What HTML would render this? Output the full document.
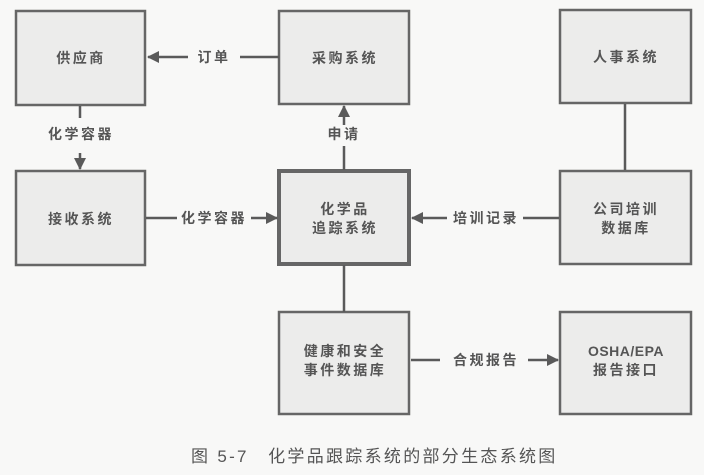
<!DOCTYPE html>
<html><head><meta charset="utf-8"><style>
html,body{margin:0;padding:0;background:#f8f8f7;}
svg{display:block}
text{font-family:"Liberation Sans","Noto Sans CJK SC",sans-serif;fill:#555;font-weight:bold;}
.b{font-size:14px;letter-spacing:2.5px;}
.l{font-size:14px;letter-spacing:2.5px;}
</style></head><body>
<svg width="704" height="475" viewBox="0 0 704 475" xmlns="http://www.w3.org/2000/svg">
<defs>
<marker id="a" markerWidth="12" markerHeight="12" refX="11" refY="6" orient="auto" markerUnits="userSpaceOnUse">
<path d="M0,0 L12,6 L0,12 Z" fill="#5a5a5a"/>
</marker>
</defs>
<g fill="#ececeb" stroke="#666" stroke-width="2.5">
<rect x="16" y="11" width="129" height="94"/>
<rect x="279" y="11" width="130" height="93"/>
<rect x="560" y="10" width="131" height="93"/>
<rect x="16" y="171" width="129" height="94"/>
<rect x="279" y="171" width="130" height="93" stroke-width="4"/>
<rect x="560" y="171" width="131" height="93"/>
<rect x="279" y="312" width="130" height="102"/>
<rect x="560" y="312" width="131" height="102"/>
</g>
<g stroke="#5a5a5a" stroke-width="2.5" fill="none">
<line x1="188" y1="57" x2="148" y2="57" marker-end="url(#a)"/>
<line x1="240" y1="57" x2="279" y2="57"/>
<line x1="80" y1="106" x2="80" y2="118"/>
<line x1="80" y1="153" x2="80" y2="169" marker-end="url(#a)"/>
<line x1="344" y1="125" x2="344" y2="106" marker-end="url(#a)"/>
<line x1="344" y1="146" x2="344" y2="170"/>
<line x1="146" y1="218" x2="177" y2="218"/>
<line x1="251" y1="218" x2="277" y2="218" marker-end="url(#a)"/>
<line x1="447" y1="218" x2="412" y2="218" marker-end="url(#a)"/>
<line x1="523" y1="218" x2="559" y2="218"/>
<line x1="625" y1="104" x2="625" y2="170"/>
<line x1="344" y1="265" x2="344" y2="312"/>
<line x1="411" y1="360" x2="440" y2="360"/>
<line x1="528" y1="360" x2="558" y2="360" marker-end="url(#a)"/>
</g>
<g class="b" text-anchor="middle">
<text x="81" y="63">供应商</text>
<text x="345" y="63">采购系统</text>
<text x="626" y="62">人事系统</text>
<text x="81" y="224">接收系统</text>
<text x="345" y="214">化学品</text>
<text x="345" y="233">追踪系统</text>
<text x="626" y="214">公司培训</text>
<text x="626" y="233">数据库</text>
<text x="345" y="356">健康和安全</text>
<text x="345" y="375">事件数据库</text>
<text x="626" y="356" letter-spacing="0.5">OSHA/EPA</text>
<text x="626" y="375">报告接口</text>
</g>
<g class="l" text-anchor="middle">
<text x="214" y="62">订单</text>
<text x="81" y="139">化学容器</text>
<text x="344" y="139">申请</text>
<text x="214" y="223">化学容器</text>
<text x="486" y="223">培训记录</text>
<text x="486" y="365">合规报告</text>
</g>
<text x="191" y="462" style="font-size:17px;font-weight:normal;letter-spacing:2.3px">图 5-7　化学品跟踪系统的部分生态系统图</text>
</svg>
</body></html>
